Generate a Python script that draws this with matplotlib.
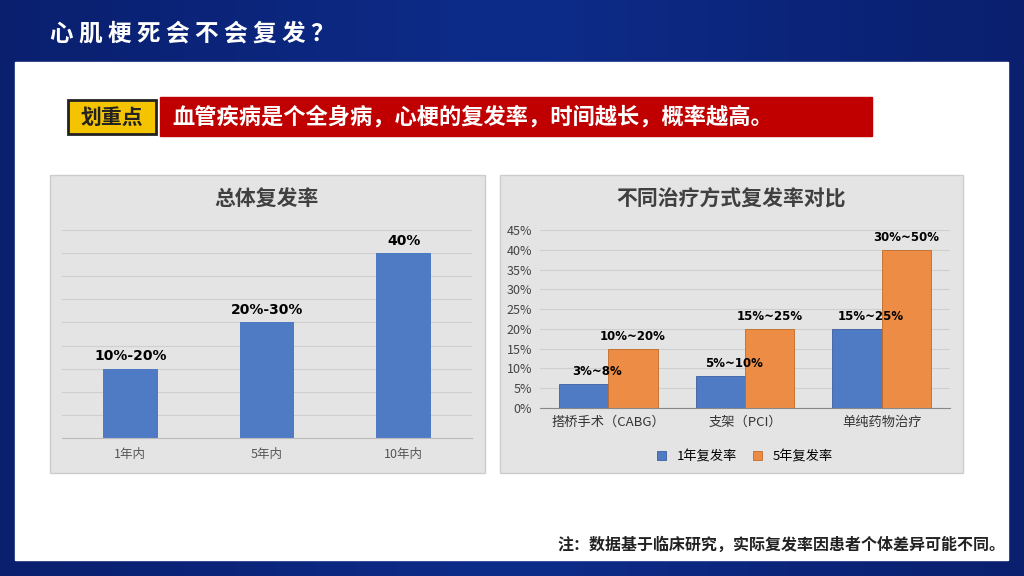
import matplotlib
matplotlib.use("Agg")
import matplotlib.pyplot as plt
import numpy as np
from matplotlib.patches import Rectangle

plt.rcParams['font.family'] = ['Noto Sans CJK SC', 'DejaVu Sans']

# left chart
overall_cats = ['1年内', '5年内', '10年内']
overall_vals = [15, 25, 40]
overall_labels = ['10%-20%', '20%-30%', '40%']

# right chart
treat_cats = ['搭桥手术（CABG）', '支架（PCI）', '单纯药物治疗']
one_year = [6, 8, 20]
five_year = [15, 20, 40]
one_labels = ['3%~8%', '5%~10%', '15%~25%']
five_labels = ['10%~20%', '15%~25%', '30%~50%']

W, H = 1024, 576
fig = plt.figure(figsize=(W / 100, H / 100), dpi=100)

def box(x, y, w, h):
    return [x / W, 1 - (y + h) / H, w / W, h / H]

# background
bg = fig.add_axes([0, 0, 1, 1])
bg.set_xlim(0, W)
bg.set_ylim(H, 0)
bg.axis('off')
grad = np.linspace(0, 1, 256).reshape(1, -1)
bg.imshow(np.vstack([grad] * 2), extent=[0, W, H, 0], aspect='auto',
          cmap=matplotlib.colors.LinearSegmentedColormap.from_list('b', ['#0a1f6e', '#0d2c8a', '#0a1f6e']))
bg.add_patch(Rectangle((15, 62), 993, 498, color='white'))
bg.text(50, 33, '心 肌 梗 死 会 不 会 复 发 ？', color='white', fontsize=17,
        fontweight='bold', va='center', style='italic')
bg.add_patch(Rectangle((160, 97), 712, 39, color='#c00000'))
bg.text(172, 117, '血管疾病是个全身病，心梗的复发率，时间越长，概率越高。', color='white',
        fontsize=16, fontweight='bold', va='center')
bg.add_patch(Rectangle((68, 100), 88, 34, color='#f5c400', ec='#222222', lw=2))
bg.text(112, 117, '划重点', color='#222222', fontsize=15, fontweight='bold',
        va='center', ha='center')
bg.text(1005, 545, '注：数据基于临床研究，实际复发率因患者个体差异可能不同。', fontsize=11.5,
        fontweight='bold', ha='right', va='center', color='#222222')

# panel backgrounds
for (px, pw) in [(50, 435), (500, 463)]:
    bg.add_patch(Rectangle((px, 175), pw, 298, color='#e4e4e4', ec='#cccccc'))

bg.text(267, 199, '总体复发率', fontsize=15, ha='center', va='center', color='#404040',
        fontweight='bold')
bg.text(731, 199, '不同治疗方式复发率对比', fontsize=15, ha='center', va='center', color='#404040',
        fontweight='bold')

# left chart
ax1 = fig.add_axes(box(62, 230, 410, 208))
ax1.set_facecolor('none')
x = np.arange(len(overall_cats))
ax1.bar(x, overall_vals, width=0.4, color='#4f7ac4')
ax1.set_ylim(0, 45)
ax1.set_xlim(-0.5, 2.5)
ax1.set_yticks(np.arange(0, 46, 5))
ax1.yaxis.grid(True, color='#cfcfcf', lw=0.8)
ax1.set_axisbelow(True)
ax1.tick_params(left=False, labelleft=False, bottom=False)
ax1.set_xticks(x, overall_cats, fontsize=9, color='#555555')
for s in ['top', 'right', 'left']:
    ax1.spines[s].set_visible(False)
ax1.spines['bottom'].set_color('#bbbbbb')
for xi, v, lab in zip(x, overall_vals, overall_labels):
    ax1.text(xi, v + 1.2, lab, ha='center', va='bottom', fontsize=10,
             fontweight='bold', family='DejaVu Sans')

# right chart
ax2 = fig.add_axes(box(540, 230, 410, 178))
ax2.set_facecolor('none')
x = np.arange(len(treat_cats))
bw = 0.36
ax2.bar(x - bw / 2, one_year, width=bw, color='#4f7ac4', ec='#3a5ea0', lw=0.6, label='1年复发率')
ax2.bar(x + bw / 2, five_year, width=bw, color='#ed8c45', ec='#c06a28', lw=0.6, label='5年复发率')
ax2.set_ylim(0, 45)
ax2.set_xlim(-0.5, 2.5)
ax2.set_yticks(np.arange(0, 46, 5), [f'{v}%' for v in range(0, 46, 5)],
               fontsize=9, color='#444444')
ax2.yaxis.grid(True, color='#cfcfcf', lw=0.8)
ax2.set_axisbelow(True)
ax2.tick_params(left=False, bottom=False, pad=2)
ax2.set_xticks(x, treat_cats, fontsize=9.5, color='#333333')
for s in ['top', 'right', 'left']:
    ax2.spines[s].set_visible(False)
ax2.spines['bottom'].set_color('#888888')
for xi, v, lab in zip(x, one_year, one_labels):
    ax2.text(xi - bw / 2 + 0.1, v + 1.5, lab, ha='center', va='bottom', fontsize=8.5,
             fontweight='bold', family='DejaVu Sans')
for xi, v, lab in zip(x, five_year, five_labels):
    ax2.text(xi + bw / 2, v + 1.5, lab, ha='center', va='bottom', fontsize=8.5,
             fontweight='bold', family='DejaVu Sans')
ax2.legend(loc='upper center', bbox_to_anchor=(0.5, -0.17), ncol=2, frameon=False,
           fontsize=9.5, handlelength=0.7, handleheight=0.7, columnspacing=1.2)

fig.savefig('out.png', dpi=100)
